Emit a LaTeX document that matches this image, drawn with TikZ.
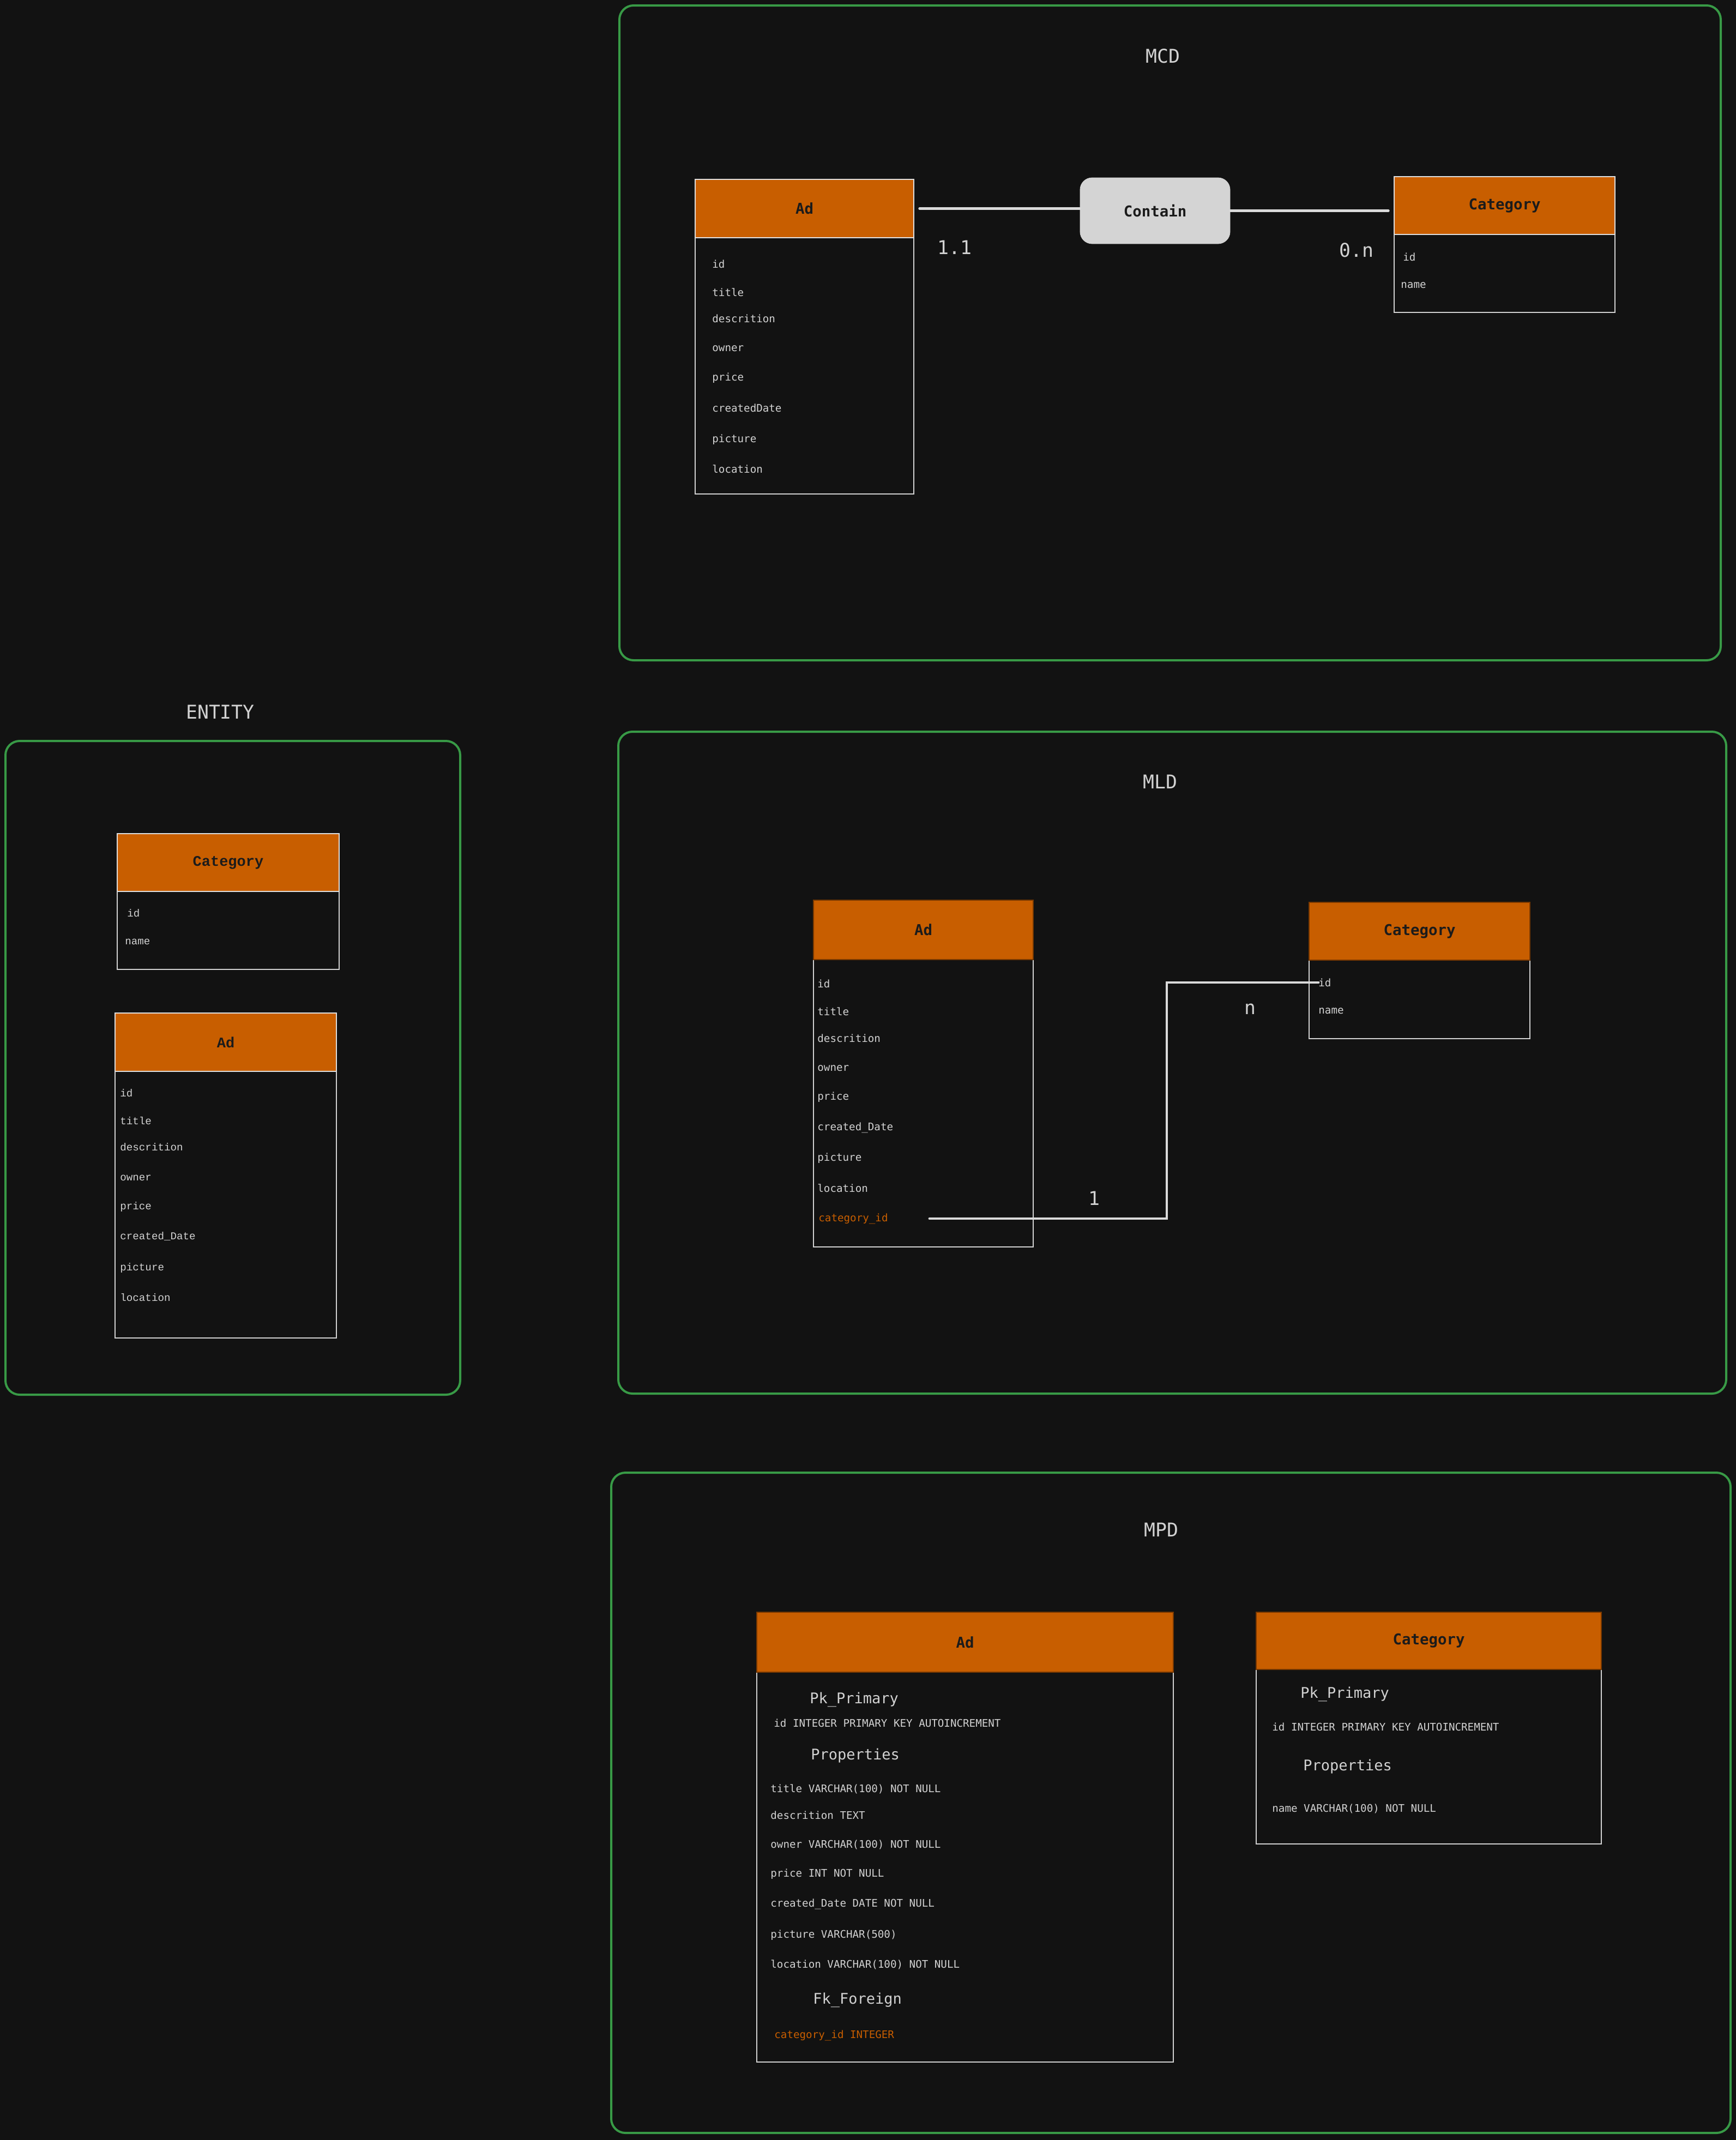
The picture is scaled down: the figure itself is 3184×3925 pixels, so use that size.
\documentclass[tikz,border=0pt]{standalone}
\usepackage{fontspec}
\setmainfont{DejaVu Sans Mono}
\newfontfamily\entfont{Liberation Mono}
\usetikzlibrary{fit}
\definecolor{bg}{HTML}{121212}
\definecolor{frgreen}{HTML}{389A46}
\definecolor{hdrorange}{HTML}{C85E00}
\definecolor{hdrtxt}{HTML}{1B1B1B}
\definecolor{txtgray}{HTML}{D2D2D2}
\definecolor{linegray}{HTML}{DADADA}
\definecolor{boxgray}{HTML}{D4D4D4}
\tikzset{
  zone/.style={draw=frgreen, line width=2pt, rounded corners=13pt, inner sep=0pt},
  zonetitle/.style={text=txtgray, font=\fontsize{17.4}{20}\selectfont},
  hdr/.style={fill=hdrorange, draw=txtgray!70, line width=0.7pt, inner sep=0pt},
  darkhdr/.style={hdr, draw=hdrorange!60!black},
  hdrlbl/.style={inner sep=0pt, text=hdrtxt, font=\fontsize{13.7}{16}\selectfont\bfseries},
  entlbl/.style={hdrlbl, font=\entfont\fontsize{13.5}{16}\selectfont\bfseries},
  tbody/.style={draw=txtgray, line width=1.2pt, inner sep=0pt},
  attr/.style={anchor=west, inner sep=0pt, text=txtgray, font=\fontsize{9.6}{11}\selectfont},
  fkattr/.style={attr, text=hdrorange},
  entattr/.style={attr, font=\entfont\fontsize{9.6}{11}\selectfont},
  section/.style={attr, font=\fontsize{13.5}{16}\selectfont},
  card/.style={text=txtgray, font=\fontsize{17.4}{20}\selectfont},
  rel/.style={fill=boxgray, draw=boxgray, rounded corners=11pt, inner sep=0pt},
  link/.style={draw=linegray, line width=2.4pt, line cap=round},
}
\begin{document}
\begin{tikzpicture}[x=0.5pt, y=-0.5pt]
\useasboundingbox (0,0) rectangle (3184,3925);
\fill[bg] (0,0) rectangle (3184,3925);
% zones
\node[zone, fit={(1136,10) (3156,1211)}] (mcdZone) {};
\node[zone, fit={(10,1359) (844,2558)}] (entZone) {};
\node[zone, fit={(1134,1342) (3166,2556)}] (mldZone) {};
\node[zone, fit={(1121,2701) (3174,3912)}] (mpdZone) {};
\node[zonetitle] (mcdTitle) at (2133,103) {MCD};
\node[zonetitle] (entTitle) at (404,1306) {ENTITY};
\node[zonetitle] (mldTitle) at (2128,1434) {MLD};
\node[zonetitle] (mpdTitle) at (2130,2806) {MPD};

% MCD
\node[tbody, fit={(1275,436) (1676,906)}] (mcdAdBody) {};
\node[hdr, fit={(1275,329) (1676,436)}, label={[hdrlbl]center:Ad}] (mcdAd) {};
\foreach \t/\y [count=\i] in {id/484, title/536, descrition/584, owner/639, price/693,
    createdDate/748, picture/806, location/860}
  \node[attr] (mcdAd\i) at (1306,\y) {\t};
\node[tbody, fit={(2557,430) (2962,573)}] (mcdCatBody) {};
\node[hdr, fit={(2557,324) (2962,430)}, label={[hdrlbl]center:Category}] (mcdCat) {};
\node[attr] (mcdCat1) at (2573,471) {id};
\node[attr] (mcdCat2) at (2569,523) {name};
\node[rel, fit={(1981,326) (2256,447)}, label={[hdrlbl]center:Contain}] (contain) {};
\draw[link, shorten <=5pt] (mcdAd.east) -- (mcdAd.east -| contain.west);
\draw[link, shorten >=5pt] (contain.east) -- (contain.east -| mcdCat.west);
\node[card] (mcdCardAd) at (1751,454) {1.1};
\node[card] (mcdCardCat) at (2488,459) {0.n};

% ENTITY
\node[tbody, fit={(215,1635) (622,1778)}] (entCatBody) {};
\node[hdr, fit={(215,1529) (622,1635)}, label={[entlbl]center:Category}] (entCat) {};
\node[entattr] (entCat1) at (233,1675) {id};
\node[entattr] (entCat2) at (229,1727) {name};
\node[tbody, fit={(211,1965) (617,2454)}] (entAdBody) {};
\node[hdr, fit={(211,1858) (617,1965)}, label={[entlbl]center:Ad}] (entAd) {};
\foreach \t/\y [count=\i] in {id/2005, title/2056, descrition/2104, owner/2160, price/2214,
    created\_Date/2268, picture/2326, location/2380}
  \node[entattr] (entAd\i) at (220,\y) {\t};

% MLD
\node[tbody, fit={(1492,1760) (1895,2287)}] (mldAdBody) {};
\node[darkhdr, fit={(1492,1651) (1895,1760)}, label={[hdrlbl]center:Ad}] (mldAd) {};
\foreach \t/\y [count=\i] in {id/1804, title/1855, descrition/1904, owner/1959, price/2012,
    created\_Date/2068, picture/2124, location/2179}
  \node[attr] (mldAd\i) at (1499,\y) {\t};
\node[fkattr] (mldFk) at (1501,2235) {category\_id};
\node[tbody, fit={(2401,1761) (2806,1905)}] (mldCatBody) {};
\node[darkhdr, fit={(2401,1655) (2806,1761)}, label={[hdrlbl]center:Category}] (mldCat) {};
\node[attr] (mldCat1) at (2418,1802) {id};
\node[attr] (mldCat2) at (2418,1854) {name};
\coordinate (mldBend) at (2140,1802);
\draw[link] ([xshift=38pt]mldFk.east) -| (mldBend) -- (mldCat1.west);
\node[card] (mldCardAd) at (2007,2198) {1};
\node[card] (mldCardCat) at (2293,1851) {n};

% MPD
\node[tbody, fit={(1388,3067) (2152,3782)}] (mpdAdBody) {};
\node[darkhdr, fit={(1388,2957) (2152,3067)}, label={[hdrlbl]center:Ad}] (mpdAd) {};
\node[section] (mpdAdPk) at (1485,3117) {Pk\_Primary};
\node[attr] (mpdAdId) at (1419,3160) {id INTEGER PRIMARY KEY AUTOINCREMENT};
\node[section] (mpdAdProp) at (1487,3220) {Properties};
\foreach \t/\y [count=\i] in {{title VARCHAR(100) NOT NULL}/3281, {descrition TEXT}/3329,
    {owner VARCHAR(100) NOT NULL}/3383, {price INT NOT NULL}/3437,
    {created\_Date DATE NOT NULL}/3492, {picture VARCHAR(500)}/3549,
    {location VARCHAR(100) NOT NULL}/3603}
  \node[attr] (mpdAd\i) at (1413,\y) {\t};
\node[section] (mpdAdFk) at (1491,3668) {Fk\_Foreign};
\node[fkattr] (mpdAdFkId) at (1420,3733) {category\_id INTEGER};
\node[tbody, fit={(2304,3062) (2937,3382)}] (mpdCatBody) {};
\node[darkhdr, fit={(2304,2957) (2937,3062)}, label={[hdrlbl]center:Category}] (mpdCat) {};
\node[section] (mpdCatPk) at (2385,3107) {Pk\_Primary};
\node[attr] (mpdCatId) at (2333,3167) {id INTEGER PRIMARY KEY AUTOINCREMENT};
\node[section] (mpdCatProp) at (2390,3240) {Properties};
\node[attr] (mpdCatName) at (2333,3317) {name VARCHAR(100) NOT NULL};
\end{tikzpicture}
\end{document}
